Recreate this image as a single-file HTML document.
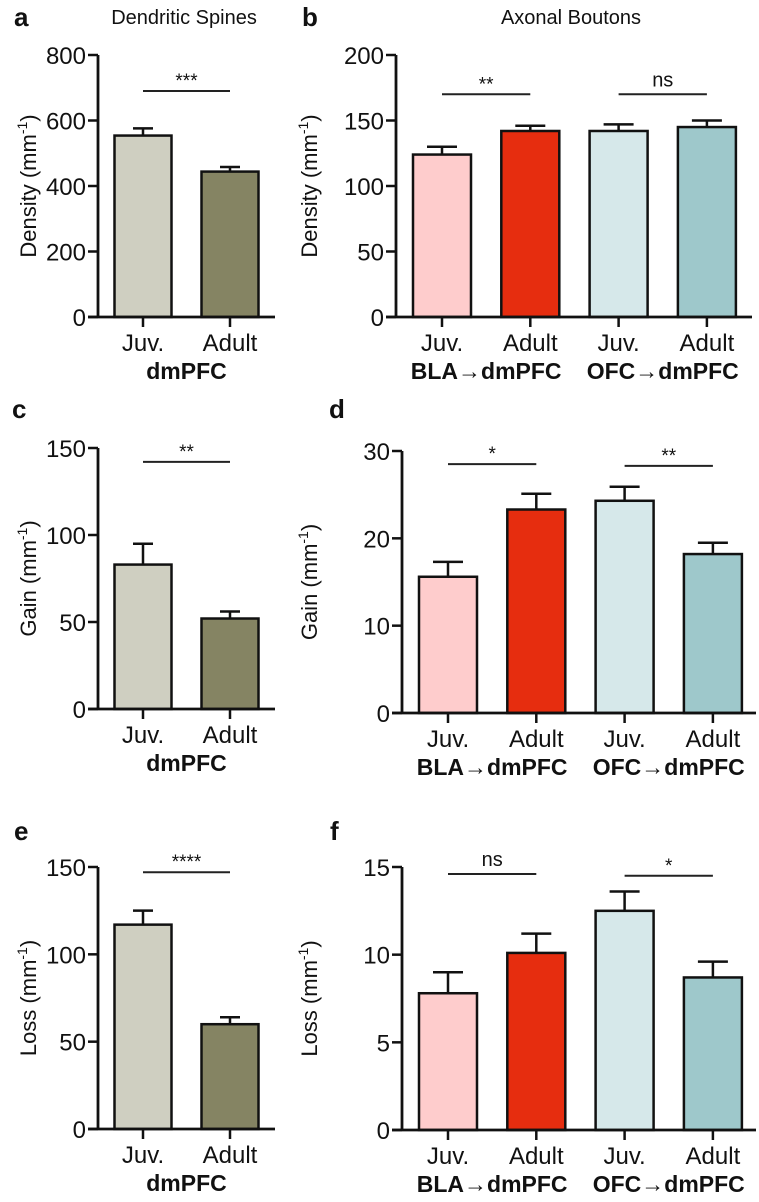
<!DOCTYPE html>
<html><head><meta charset="utf-8"><style>
html,body{margin:0;padding:0;background:#fff;}
svg{display:block;font-family:"Liberation Sans",Arial,sans-serif;}
</style></head><body>
<svg id="fig" width="759" height="1202" viewBox="0 0 759 1202" xmlns="http://www.w3.org/2000/svg"></svg>
<script>
// ---- Data ----
const catsDm = ["Juv.", "Adult"];
const catsAx = ["Juv.", "Adult", "Juv.", "Adult"];
const groupsAx = ["BLA\u2192dmPFC", "OFC\u2192dmPFC"];
const colorsDm = ["#cfcfc1", "#858463"];
const colorsAx = ["#fecccc", "#e62d0f", "#d6e8ea", "#9ec8cb"];

const aVals = [554, 444];   const aErr = [22, 14];
const bVals = [124, 142, 142, 145]; const bErr = [6, 4, 5, 5];
const cVals = [83, 52];     const cErr = [12, 4];
const dVals = [15.6, 23.3, 24.3, 18.2]; const dErr = [1.7, 1.8, 1.6, 1.3];
const eVals = [117, 60];    const eErr = [8, 4];
const fVals = [7.8, 10.1, 12.5, 8.7]; const fErr = [1.2, 1.1, 1.1, 0.9];

const aTicks = [0, 200, 400, 600, 800];
const bTicks = [0, 50, 100, 150, 200];
const cTicks = [0, 50, 100, 150];
const dTicks = [0, 10, 20, 30];
const eTicks = [0, 50, 100, 150];
const fTicks = [0, 5, 10, 15];

const aSig = [["***", 0, 1, 690]];
const bSig = [["**", 0, 1, 170], ["ns", 2, 3, 170]];
const cSig = [["**", 0, 1, 142]];
const dSig = [["*", 0, 1, 28.5], ["**", 2, 3, 28.3]];
const eSig = [["****", 0, 1, 147]];
const fSig = [["ns", 0, 1, 14.6], ["*", 2, 3, 14.5]];

const svg = document.getElementById('fig');
const NS = "http://www.w3.org/2000/svg";
function el(tag, attrs, parent, txt){
  const e = document.createElementNS(NS, tag);
  for (const k in attrs) e.setAttribute(k, attrs[k]);
  if (txt !== undefined) e.textContent = txt;
  (parent || svg).appendChild(e);
  return e;
}

function panel(o){
  const g = el('g', {});
  
  
  const maxV = o.ticks[o.ticks.length - 1];
  const y = v => o.y0 - (v / maxV) * (o.y0 - o.yTop);
  const n = o.vals.length;
  const xc = i => o.x0 + o.first + i * o.step;
  for (let i = 0; i < n; i++){
    const r = el('rect', {x: xc(i) - o.bw/2, y: y(o.vals[i]), width: o.bw, height: o.y0 - y(o.vals[i]),
      fill: o.colors[i], stroke: '#111', 'stroke-width': 2.5}, g);
    
    
    const top = y(o.vals[i] + o.err[i]);
    const eb = el('path', {d: `M${xc(i)},${y(o.vals[i])}V${top}M${xc(i)-o.cap/2},${top}H${xc(i)+o.cap/2}`,
      stroke: '#111', 'stroke-width': 2.5, fill: 'none'}, g);
    
    
    const tk = el('line', {x1: xc(i), x2: xc(i), y1: o.y0, y2: o.y0 + 10, stroke: '#111', 'stroke-width': 2.5}, g);
    
    
    const lb = el('text', {x: xc(i), y: o.y0 + 34, 'font-size': 24, 'text-anchor': 'middle', fill: '#111'}, g, o.cats[i]);
    
    
  }
  const ya = el('line', {x1: o.x0, x2: o.x0, y1: o.yTop, y2: o.y0, stroke: '#111', 'stroke-width': 2.8}, g);
  
  
  const xa = el('line', {x1: o.x0 - 10, x2: o.xEnd, y1: o.y0, y2: o.y0, stroke: '#111', 'stroke-width': 2.8}, g);
  
  
  o.ticks.forEach(t => {
    const l = el('line', {x1: o.x0 - 10, x2: o.x0, y1: y(t), y2: y(t), stroke: '#111', 'stroke-width': 2.5}, g);
    
    
    const tx = el('text', {x: o.x0 - 12, y: y(t) + 9, 'font-size': 24, 'text-anchor': 'end', fill: '#111'}, g, t);
    
    
  });
  const cy = (o.yTop + o.y0) / 2;
  const yt = el('text', {x: 0, y: 0, 'font-size': 22, 'text-anchor': 'middle', fill: '#111',
    transform: `translate(${o.titleX},${cy}) rotate(-90)`}, g);
  
  
  yt.appendChild(document.createTextNode(o.yTitle + ' (mm'));
  el('tspan', {'font-size': 14, dy: -9}, yt, '-1');
  el('tspan', {dy: 9}, yt, ')');
  o.groups.forEach((gl, k) => {
    const cx = o.groups.length === 1 ? (xc(0) + xc(1)) / 2 : (xc(2*k) + xc(2*k+1)) / 2;
    const t = el('text', {x: cx, y: o.y0 + 62, 'font-size': 23, 'font-weight': 'bold', 'text-anchor': 'middle', fill: '#111'}, g, gl);
    
    
  });
  o.sig.forEach(s => {
    const yy = y(s[3]);
    const ln = el('line', {x1: xc(s[1]), x2: xc(s[2]), y1: yy, y2: yy, stroke: '#222', 'stroke-width': 2}, g);
    
    
    const st = el('text', {x: (xc(s[1]) + xc(s[2])) / 2, y: yy - (s[0] === 'ns' ? 8 : 4), 'font-size': s[0] === 'ns' ? 20 : 19,
      'text-anchor': 'middle', fill: '#111'}, g, s[0]);
    
    
  });
  const pl = el('text', {x: o.letterX, y: o.letterY, 'font-size': 26, 'font-weight': 'bold', fill: '#111'}, g, o.id);
  
  
}

const dm = {x0: 98, first: 45, step: 87, bw: 57, cap: 20, xEnd: 275, titleX: 36, colors: colorsDm, cats: catsDm, groups: ["dmPFC"]};
const ax = {first: 46, step: 88.3, bw: 58, cap: 30, titleX: 317, colors: colorsAx, cats: catsAx, groups: groupsAx};

panel(Object.assign({}, dm, {id: 'a', yTop: 55, y0: 317, vals: aVals, err: aErr, ticks: aTicks, sig: aSig, yTitle: 'Density', letterX: 14, letterY: 26}));
panel(Object.assign({}, ax, {id: 'b', x0: 396, xEnd: 752, yTop: 55, y0: 317, vals: bVals, err: bErr, ticks: bTicks, sig: bSig, yTitle: 'Density', letterX: 302, letterY: 26}));
panel(Object.assign({}, dm, {id: 'c', yTop: 448, y0: 709, vals: cVals, err: cErr, ticks: cTicks, sig: cSig, yTitle: 'Gain', letterX: 12, letterY: 418}));
panel(Object.assign({}, ax, {id: 'd', x0: 402, xEnd: 756, yTop: 451, y0: 713, vals: dVals, err: dErr, ticks: dTicks, sig: dSig, yTitle: 'Gain', letterX: 329, letterY: 418}));
panel(Object.assign({}, dm, {id: 'e', yTop: 867, y0: 1129, vals: eVals, err: eErr, ticks: eTicks, sig: eSig, yTitle: 'Loss', letterX: 14, letterY: 840}));
panel(Object.assign({}, ax, {id: 'f', x0: 402, xEnd: 756, yTop: 867, y0: 1130, vals: fVals, err: fErr, ticks: fTicks, sig: fSig, yTitle: 'Loss', letterX: 330, letterY: 840}));

const t1 = el('text', {x: 184, y: 24, 'font-size': 20, 'text-anchor': 'middle', fill: '#111'}, svg, 'Dendritic Spines');


const t2 = el('text', {x: 571, y: 24, 'font-size': 20, 'text-anchor': 'middle', fill: '#111'}, svg, 'Axonal Boutons');


</script>
</body></html>
